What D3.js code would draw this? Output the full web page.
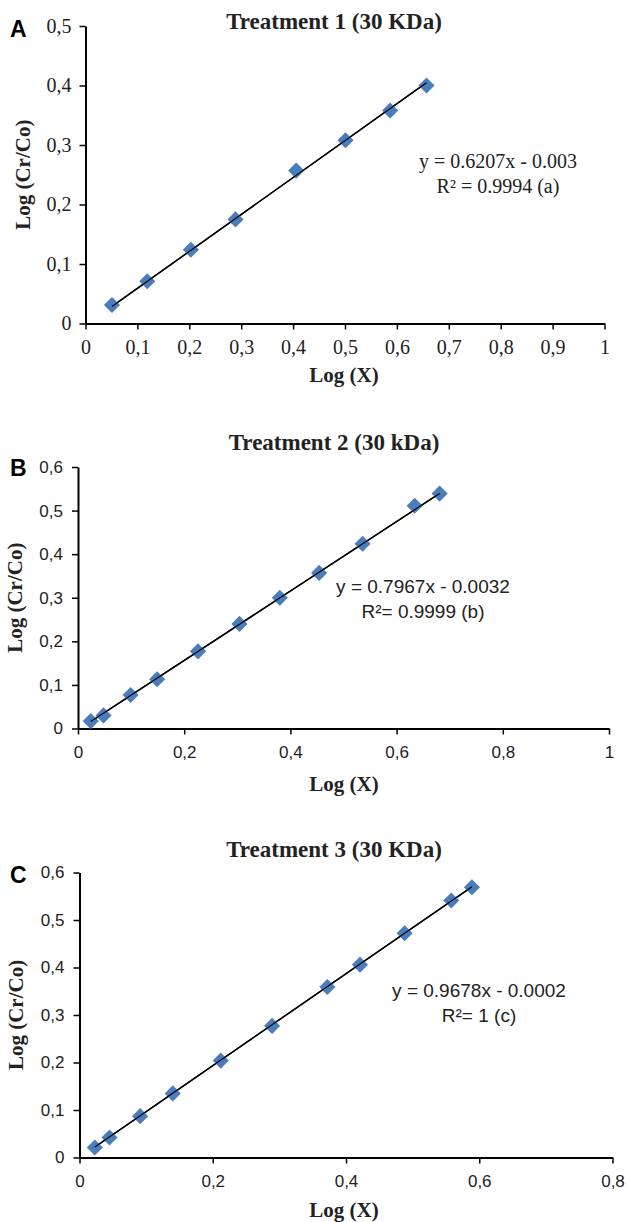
<!DOCTYPE html>
<html>
<head>
<meta charset="utf-8">
<script src="https://cdn.jsdelivr.net/npm/d3@7"></script>
<style>
  body { margin: 0; background: #fff; }
  .serif { font-family: "Liberation Serif", "Times New Roman", serif; }
  .sans { font-family: "Liberation Sans", Arial, sans-serif; }
</style>
</head>
<body>
<svg id="chart" width="627" height="1222"></svg>
<script>
// ---- values ----
var panelLetters = ["A", "B", "C"];
var titles = ["Treatment 1 (30 KDa)", "Treatment 2 (30 kDa)", "Treatment 3 (30 KDa)"];

var xA = [0.051, 0.119, 0.203, 0.289, 0.406, 0.501, 0.587, 0.657];
var yA = [0.031, 0.071, 0.124, 0.175, 0.257, 0.308, 0.358, 0.400];

var xB = [0.024, 0.048, 0.099, 0.149, 0.226, 0.304, 0.380, 0.454, 0.536, 0.634, 0.681];
var yB = [0.017, 0.030, 0.077, 0.113, 0.177, 0.240, 0.300, 0.357, 0.424, 0.511, 0.539];

var xC = [0.023, 0.045, 0.091, 0.140, 0.212, 0.289, 0.372, 0.421, 0.488, 0.558, 0.589];
var yC = [0.021, 0.042, 0.087, 0.135, 0.204, 0.277, 0.359, 0.406, 0.472, 0.541, 0.569];

// trend lines (from the printed equations)
var slopes = [0.6207, 0.7967, 0.9678];
var intercepts = [-0.003, -0.0032, -0.0002];
var eqLine1 = ["y = 0.6207x - 0.003", "y = 0.7967x - 0.0032", "y = 0.9678x - 0.0002"];
var eqLine2 = ["R\u00b2 = 0.9994 (a)", "R\u00b2= 0.9999 (b)", "R\u00b2= 1 (c)"];

// tick values
var xTicksA = [0, 0.1, 0.2, 0.3, 0.4, 0.5, 0.6, 0.7, 0.8, 0.9, 1];
var yTicksA = [0, 0.1, 0.2, 0.3, 0.4, 0.5];
var xTicksB = [0, 0.2, 0.4, 0.6, 0.8, 1];
var yTicksB = [0, 0.1, 0.2, 0.3, 0.4, 0.5, 0.6];
var xTicksC = [0, 0.2, 0.4, 0.6, 0.8];
var yTicksC = [0, 0.1, 0.2, 0.3, 0.4, 0.5, 0.6];

var xLabel = "Log (X)";
var yLabel = "Log (Cr/Co)";

// ---- layout of each panel (pixel boxes) ----
var panels = [
  { xs: xA, ys: yA, xt: xTicksA, yt: yTicksA,
    left: 85.5, right: 604.5, bottom: 323.5, top: 26,
    tickFont: "serif", tickSize: 20, letterY: 37, titleY: 29,
    eqX: 498, eqY: 168, eqFont: "serif", eqSize: 20,
    xlabY: 382, ylabX: 30 },
  { xs: xB, ys: yB, xt: xTicksB, yt: yTicksB,
    left: 78, right: 609, bottom: 728.5, top: 467,
    tickFont: "sans", tickSize: 17, letterY: 476, titleY: 450,
    eqX: 423, eqY: 593, eqFont: "sans", eqSize: 19,
    xlabY: 791, ylabX: 22 },
  { xs: xC, ys: yC, xt: xTicksC, yt: yTicksC,
    left: 79.5, right: 612.5, bottom: 1157.5, top: 872.5,
    tickFont: "sans", tickSize: 17, letterY: 883, titleY: 857,
    eqX: 479, eqY: 997, eqFont: "sans", eqSize: 19,
    xlabY: 1217, ylabX: 23 }
];

var svg = d3.select("#chart");
var fmt = function(d){ return d === 0 ? "0" : String(d).replace(".", ","); };
var diamond = d3.symbol().type(d3.symbolSquare).size(130);

panels.forEach(function(p, i){
  var g = svg.append("g");

  var x = d3.scaleLinear()
    .domain([p.xt[0], p.xt[p.xt.length - 1]])
    .range([p.left, p.right]);
  var y = d3.scaleLinear()
    .domain([p.yt[0], p.yt[p.yt.length - 1]])
    .range([p.bottom, p.top]);

  //--------------------------- AXES ---------------------------
  var xg = g.append("g")
    .attr("class", p.tickFont)
    .attr("transform", "translate(0," + p.bottom + ")")
    .call(d3.axisBottom(x).tickValues(p.xt).tickFormat(fmt)
      .tickSize(6).tickSizeOuter(0).tickPadding(i === 0 ? 10 : 11));
  var yg = g.append("g")
    .attr("class", p.tickFont)
    .attr("transform", "translate(" + p.left + ",0)")
    .call(d3.axisLeft(y).tickValues(p.yt).tickFormat(fmt)
      .tickSize(6).tickSizeOuter(0).tickPadding(i === 0 ? 8 : 9));

  [xg, yg].forEach(function(a){
    a.attr("font-family", null).attr("font-size", p.tickSize);
    a.select(".domain").attr("stroke", "#000").attr("stroke-width", 2);
    a.selectAll(".tick line").attr("stroke", "#000").attr("stroke-width", 1.5);
    a.selectAll(".tick text").attr("fill", "#222");
  });

  //--------------------------- TREND LINE ---------------------------
  var x0 = p.xs[0], x1 = p.xs[p.xs.length - 1];
  g.append("line")
    .attr("x1", x(x0)).attr("y1", y(slopes[i] * x0 + intercepts[i]))
    .attr("x2", x(x1)).attr("y2", y(slopes[i] * x1 + intercepts[i]))
    .attr("stroke", "#000")
    .attr("stroke-width", 1.5);

  //--------------------------- POINTS ---------------------------
  g.selectAll("path.pt")
    .data(d3.zip(p.xs, p.ys))
    .enter().append("path")
      .attr("class", "pt")
      .attr("d", diamond)
      .attr("transform", function(d){
        return "translate(" + x(d[0]) + "," + y(d[1]) + ") rotate(45)";
      })
      .attr("fill", "#4a7ebb");

  // redraw the line on top so it shows through the markers
  g.append("line")
    .attr("x1", x(x0)).attr("y1", y(slopes[i] * x0 + intercepts[i]))
    .attr("x2", x(x1)).attr("y2", y(slopes[i] * x1 + intercepts[i]))
    .attr("stroke", "#000")
    .attr("stroke-width", 1.2);

  //--------------------------- TEXTS ---------------------------
  g.append("text")
    .attr("class", "serif")
    .attr("x", 334).attr("y", p.titleY)
    .attr("text-anchor", "middle")
    .attr("font-weight", "bold")
    .attr("font-size", 23)
    .attr("fill", "#222")
    .text(titles[i]);

  g.append("text")
    .attr("class", "sans")
    .attr("x", 10).attr("y", p.letterY)
    .attr("font-weight", "bold")
    .attr("font-size", 23)
    .text(panelLetters[i]);

  var eq = g.append("text")
    .attr("class", p.eqFont)
    .attr("text-anchor", "middle")
    .attr("font-size", p.eqSize)
    .attr("fill", "#222");
  eq.append("tspan").attr("x", p.eqX).attr("y", p.eqY).text(eqLine1[i]);
  eq.append("tspan").attr("x", p.eqX).attr("y", p.eqY + 25).text(eqLine2[i]);

  g.append("text")
    .attr("class", "serif")
    .attr("x", 344).attr("y", p.xlabY)
    .attr("text-anchor", "middle")
    .attr("font-weight", "bold")
    .attr("font-size", 21)
    .attr("fill", "#222")
    .text(xLabel);

  g.append("text")
    .attr("class", "serif")
    .attr("transform", "translate(" + p.ylabX + "," + (p.top + p.bottom) / 2 + ") rotate(-90)")
    .attr("text-anchor", "middle")
    .attr("font-weight", "bold")
    .attr("font-size", 21)
    .attr("fill", "#222")
    .text(yLabel);
});
</script>
</body>
</html>
